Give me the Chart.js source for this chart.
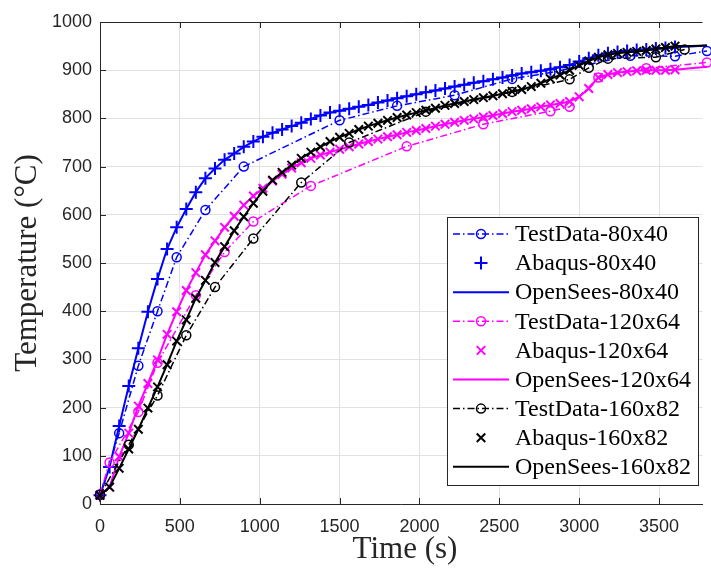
<!DOCTYPE html>
<html>
<head>
<meta charset="utf-8">
<script src="https://cdn.jsdelivr.net/npm/chart.js@4.4.1/dist/chart.umd.min.js"></script>
<style>
  html, body { margin: 0; padding: 0; background: #fff; }
  #wrap { width: 711px; height: 570px; }
</style>
</head>
<body>
<div id="wrap"><canvas id="c" width="711" height="570"></canvas></div>
<script>
// Temperature histories. Times in s, temperatures in °C.
const tTest80 = [0, 120, 240, 360, 480, 660, 900, 1500, 1860, 2220, 2580, 2820, 3320, 3600, 3800];
const test80 = [19, 147, 287, 400, 512, 610, 700, 796, 826, 848, 882, 895, 930, 929, 940];

const tTest120 = [0, 60, 240, 360, 600, 780, 960, 1320, 1920, 2400, 2820, 2940, 3120, 3420, 3800];
const test120 = [20, 86, 191, 293, 433, 523, 586, 660, 742, 788, 815, 824, 885, 904, 916];

const tTest160 = [0, 180, 360, 540, 720, 960, 1260, 1560, 2040, 2580, 2940, 3060, 3180, 3480, 3660];
const test160 = [19, 123, 225, 350, 450, 551, 667, 750, 814, 855, 881, 905, 924, 927, 943];

const tAbaqus = [0, 60, 120, 180, 240, 300, 360, 420, 480, 540, 600, 660, 720, 780, 840, 900, 960, 1020,
  1080, 1140, 1200, 1260, 1320, 1380, 1440, 1500, 1560, 1620, 1680, 1740, 1800, 1860, 1920, 1980, 2040,
  2100, 2160, 2220, 2280, 2340, 2400, 2460, 2520, 2580, 2640, 2700, 2760, 2820, 2880, 2940, 3000, 3060,
  3120, 3180, 3240, 3300, 3360, 3420, 3480, 3540, 3600];
const abaqus80 = [18, 77, 162, 245, 323, 399, 467, 529, 574, 612, 647, 676, 696, 714, 727, 741, 752, 762,
  770, 777, 784, 791, 799, 806, 812, 816, 820, 824, 828, 833, 837, 842, 846, 850, 854, 858, 862, 866, 870,
  874, 877, 881, 885, 889, 893, 896, 899, 902, 906, 911, 918, 925, 931, 935, 938, 940, 942, 943, 945, 946, 948];
const abaqus120 = [18, 35, 98, 147, 203, 250, 299, 352, 399, 443, 480, 517, 546, 574, 597, 620, 639, 655,
  670, 684, 697, 708, 717, 724, 730, 736, 741, 747, 752, 757, 762, 766, 771, 775, 779, 784, 788, 792, 796,
  799, 803, 806, 810, 814, 817, 820, 824, 828, 831, 835, 845, 862, 885, 891, 895, 897, 899, 900, 900, 900, 901];
const abaqus160 = [18, 35, 74, 114, 155, 199, 243, 289, 338, 382, 427, 464, 501, 534, 567, 596, 624, 649,
  672, 688, 703, 717, 730, 741, 752, 761, 769, 777, 784, 790, 796, 802, 807, 812, 817, 821, 827, 831, 835,
  839, 843, 847, 851, 856, 860, 866, 873, 882, 890, 900, 910, 919, 927, 932, 935, 937, 939, 941, 944, 947, 950];

const tOpenSees = [0, 60, 120, 180, 240, 300, 360, 420, 480, 540, 600, 660, 720, 780, 840, 900, 960, 1020,
  1080, 1140, 1200, 1260, 1320, 1380, 1440, 1500, 1560, 1620, 1680, 1740, 1800, 1860, 1920, 1980, 2040,
  2100, 2160, 2220, 2280, 2340, 2400, 2460, 2520, 2580, 2640, 2700, 2760, 2820, 2880, 2940, 3000, 3060,
  3120, 3180, 3240, 3300, 3360, 3420, 3480, 3540, 3600, 3700, 3800];
const openSees80 = [18, 77, 162, 245, 323, 399, 467, 529, 574, 612, 647, 676, 696, 714, 727, 741, 752, 762,
  770, 777, 784, 791, 799, 806, 812, 816, 820, 824, 828, 833, 837, 842, 846, 850, 854, 858, 862, 866, 870,
  874, 877, 881, 885, 889, 893, 896, 899, 902, 906, 911, 918, 925, 931, 935, 938, 940, 942, 943, 945, 946,
  948, 949, 951];
const openSees120 = [18, 35, 98, 147, 203, 250, 299, 352, 399, 443, 480, 517, 546, 574, 597, 620, 639, 655,
  670, 684, 697, 708, 717, 724, 730, 736, 741, 747, 752, 757, 762, 766, 771, 775, 779, 784, 788, 792, 796,
  799, 803, 806, 810, 814, 817, 820, 824, 828, 831, 835, 845, 862, 885, 891, 895, 897, 899, 900, 900, 900,
  901, 904, 907];
const openSees160 = [18, 35, 74, 114, 155, 199, 243, 289, 338, 382, 427, 464, 501, 534, 567, 596, 624, 649,
  672, 688, 703, 717, 730, 741, 752, 761, 769, 777, 784, 790, 796, 802, 807, 812, 817, 821, 827, 831, 835,
  839, 843, 847, 851, 856, 860, 866, 873, 882, 890, 900, 910, 919, 927, 932, 935, 937, 939, 941, 944, 947,
  950, 950, 951];

const xTicks = [0, 500, 1000, 1500, 2000, 2500, 3000, 3500];

const BLUE = "#0000ff", MAGENTA = "#ff00ff", BLACK = "#000000";
const AXIS = "#262626";
const pts = (xs, ys) => xs.map((x, i) => ({ x, y: ys[i] }));

function testSet(label, color, xs, ys) {
  return { label, data: pts(xs, ys), borderColor: color, backgroundColor: color, showLine: true,
    borderWidth: 1.5, borderDash: [7, 3, 1.5, 3], pointStyle: "circle", pointRadius: 4.5,
    pointBorderWidth: 1.5, pointBackgroundColor: "rgba(0,0,0,0)", pointBorderColor: color, clip: false };
}
function abaqusSet(label, color, style, r, xs, ys) {
  return { label, data: pts(xs, ys), borderColor: color, backgroundColor: color, showLine: false,
    borderWidth: 2, pointStyle: style, pointRadius: r, pointBorderWidth: 2, pointBorderColor: color, clip: false };
}
function osSet(label, color, xs, ys) {
  return { label, data: pts(xs, ys), borderColor: color, backgroundColor: color, showLine: true,
    borderWidth: 2, pointRadius: 0, clip: false };
}

const datasets = [
  testSet("TestData-80x40", BLUE, tTest80, test80),
  abaqusSet("Abaqus-80x40", BLUE, "cross", 6.5, tAbaqus, abaqus80),
  osSet("OpenSees-80x40", BLUE, tOpenSees, openSees80),
  testSet("TestData-120x64", MAGENTA, tTest120, test120),
  abaqusSet("Abaqus-120x64", MAGENTA, "crossRot", 6, tAbaqus, abaqus120),
  osSet("OpenSees-120x64", MAGENTA, tOpenSees, openSees120),
  testSet("TestData-160x82", BLACK, tTest160, test160),
  abaqusSet("Abaqus-160x82", BLACK, "crossRot", 6, tAbaqus, abaqus160),
  osSet("OpenSees-160x82", BLACK, tOpenSees, openSees160),
];
// later series go on top, like the original plot order
datasets.forEach((d, i) => { d.order = datasets.length - i; });

function marker(ctx, d, x, y) {
  const r = d.pointRadius;
  ctx.beginPath();
  if (d.pointStyle === "circle") ctx.arc(x, y, r, 0, Math.PI * 2);
  else if (d.pointStyle === "cross") { ctx.moveTo(x - r, y); ctx.lineTo(x + r, y); ctx.moveTo(x, y - r); ctx.lineTo(x, y + r); }
  else { const k = r * Math.SQRT1_2; ctx.moveTo(x - k, y - k); ctx.lineTo(x + k, y + k); ctx.moveTo(x - k, y + k); ctx.lineTo(x + k, y - k); }
  ctx.stroke();
}

// frame on top + inward ticks, MATLAB style
const framePlugin = {
  id: "frame",
  afterDatasetsDraw(chart) {
    const { ctx, chartArea: a, scales } = chart;
    ctx.save();
    ctx.strokeStyle = AXIS; ctx.lineWidth = 1;
    ctx.beginPath();
    ctx.moveTo(a.left, a.top + 0.5); ctx.lineTo(a.right, a.top + 0.5);
    xTicks.forEach((v) => {
      const px = Math.round(scales.x.getPixelForValue(v)) + 0.5;
      ctx.moveTo(px, a.bottom); ctx.lineTo(px, a.bottom - 6);
      ctx.moveTo(px, a.top); ctx.lineTo(px, a.top + 6);
    });
    scales.y.ticks.forEach((t) => {
      const py = Math.round(scales.y.getPixelForValue(t.value)) + 0.5;
      ctx.moveTo(a.left, py); ctx.lineTo(a.left + 6, py);
    });
    ctx.stroke();
    ctx.restore();
  },
};

const legendPlugin = {
  id: "boxLegend",
  afterDraw(chart) {
    const ctx = chart.ctx;
    const x0 = 447, y0 = 217, w = 251, h = 268;
    ctx.save();
    ctx.fillStyle = "#fff"; ctx.fillRect(x0, y0, w, h);
    ctx.strokeStyle = AXIS; ctx.lineWidth = 1; ctx.strokeRect(x0 + 0.5, y0 + 0.5, w, h);
    ctx.font = '24px "Liberation Serif"'; ctx.textBaseline = "middle"; ctx.textAlign = "left";
    chart.data.datasets.forEach((d, i) => {
      const y = 234 + i * 29.1;
      ctx.strokeStyle = d.borderColor;
      if (d.showLine) {
        ctx.lineWidth = d.borderWidth; ctx.setLineDash(d.borderDash || []);
        ctx.beginPath(); ctx.moveTo(453, y); ctx.lineTo(509, y); ctx.stroke();
        ctx.setLineDash([]);
      }
      if (d.pointRadius > 0) { ctx.lineWidth = d.pointBorderWidth; marker(ctx, d, 481, y); }
      ctx.fillStyle = "#000"; ctx.fillText(d.label, 515, y + 1);
    });
    // axis titles
    ctx.fillStyle = AXIS; ctx.textAlign = "center";
    ctx.font = '31px "Liberation Serif"';
    ctx.fillText("Time (s)", 405, 550);
    ctx.translate(28, 263); ctx.rotate(-Math.PI / 2);
    ctx.fillText("Temperature (\u00B0C)", 0, 0);
    ctx.restore();
  },
};

new Chart(document.getElementById("c"), {
  type: "scatter",
  data: { datasets },
  options: {
    responsive: false, animation: false, devicePixelRatio: 1,
    layout: { padding: { top: 22, right: 0, left: 0, bottom: 0 } },
    plugins: { legend: { display: false }, tooltip: { enabled: false } },
    elements: { line: { tension: 0 } },
    scales: {
      x: {
        type: "linear", min: 0, max: 3772,
        ticks: { stepSize: 500, padding: 12, color: AXIS, font: { family: "Liberation Sans", size: 18 },
          callback: (v) => String(v) },
        afterBuildTicks: (s) => { s.ticks = xTicks.map((v) => ({ value: v })); },
        afterFit: (s) => { s.height = 66; },
        grid: { color: "#e1e1e1", drawTicks: false },
        border: { color: AXIS, width: 1 },
      },
      y: {
        min: 0, max: 1000,
        ticks: { stepSize: 100, padding: 8, color: AXIS, font: { family: "Liberation Sans", size: 18 },
          callback: (v) => String(v) },
        afterFit: (s) => { s.width = 100; },
        grid: { color: "#e1e1e1", drawTicks: false },
        border: { color: AXIS, width: 1 },
      },
    },
  },
  plugins: [framePlugin, legendPlugin],
});
</script>
</body>
</html>
